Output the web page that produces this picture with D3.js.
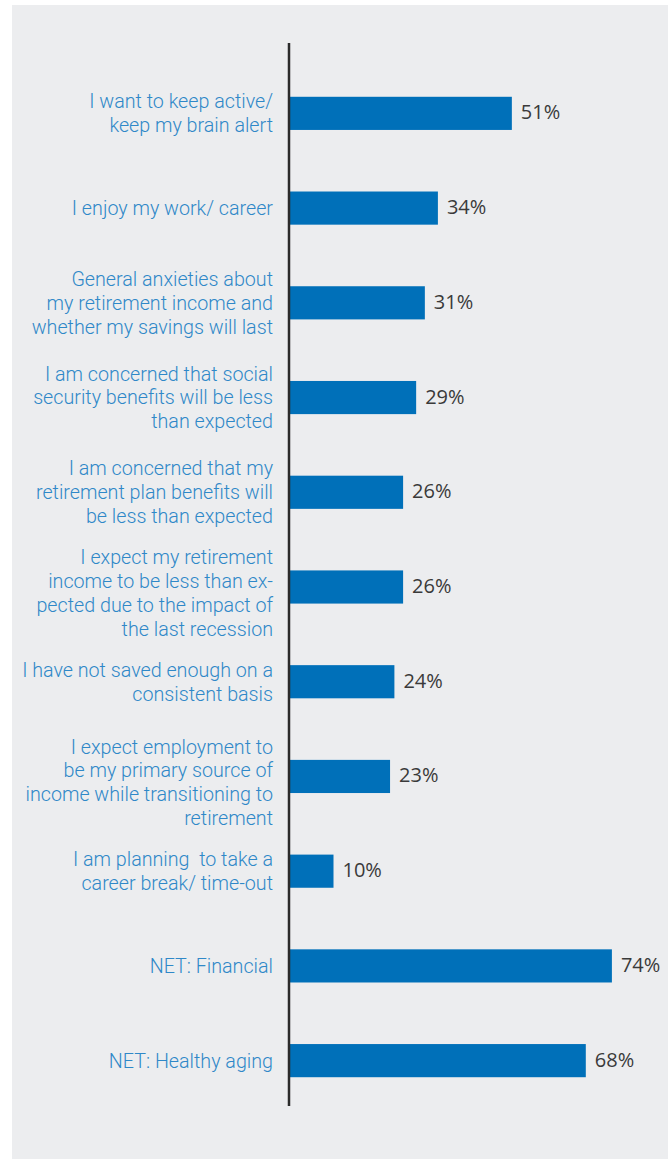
<!DOCTYPE html>
<html>
<head>
<meta charset="utf-8">
<script src="https://cdn.jsdelivr.net/npm/d3@7"></script>
<style>
  html, body { margin: 0; padding: 0; background: #ffffff; }
  svg { display: block; }
</style>
</head>
<body>
<svg id="chart" width="668" height="1159"></svg>
<script>
// ---- data ----
const categories = [
  "I want to keep active/\nkeep my brain alert",
  "I enjoy my work/ career",
  "General anxieties about\nmy retirement income and\nwhether my savings will last",
  "I am concerned that social\nsecurity benefits will be less\nthan expected",
  "I am concerned that my\nretirement plan benefits will\nbe less than expected",
  "I expect my retirement\nincome to be less than ex-\npected due to the impact of\nthe last recession",
  "I have not saved enough on a\nconsistent basis",
  "I expect employment to\nbe my primary source of\nincome while transitioning to\nretirement",
  "I am planning  to take a\ncareer break/ time-out",
  "NET: Financial",
  "NET: Healthy aging"
];
const values = [51, 34, 31, 29, 26, 26, 24, 23, 10, 74, 68];
const valueLabels = ["51%", "34%", "31%", "29%", "26%", "26%", "24%", "23%", "10%", "74%", "68%"];

// ---- layout ----
const W = 668, H = 1159;
const svg = d3.select("#chart");

svg.append("rect")
  .attr("x", 12).attr("y", 5)
  .attr("width", W - 12).attr("height", H - 5)
  .attr("fill", "#ecedef");

const x0 = 290;
const x = d3.scaleLinear().domain([0, 100]).range([x0, x0 + 435]);
const y = d3.scaleBand()
  .domain(d3.range(categories.length))
  .range([66, 1108])
  .paddingInner(0.65)
  .paddingOuter(0.325);

// bars
svg.append("g").selectAll("rect")
  .data(values)
  .join("rect")
  .attr("x", x(0))
  .attr("y", (d, i) => y(i))
  .attr("width", d => x(d) - x(0))
  .attr("height", y.bandwidth())
  .attr("fill", "#0070b9");

// axis line
svg.append("line")
  .attr("x1", 289).attr("x2", 289)
  .attr("y1", 43).attr("y2", 1106)
  .attr("stroke", "#2b2b2b")
  .attr("stroke-width", 2.5);

// value labels
svg.append("g").selectAll("text")
  .data(values)
  .join("text")
  .attr("x", d => x(d) + 9)
  .attr("y", (d, i) => y(i) + y.bandwidth() / 2 - 1)
  .attr("dy", "0.35em")
  .attr("font-family", "'Open Sans', sans-serif")
  .attr("font-size", 20)
  .attr("fill", "#3a3a3a")
  .text((d, i) => valueLabels[i]);

// category labels
const lh = 23.8;
const cat = svg.append("g").selectAll("text")
  .data(categories)
  .join("text")
  .attr("x", 273)
  .attr("text-anchor", "end")
  .attr("font-family", "Roboto, sans-serif")
  .attr("font-weight", 300)
  .attr("font-size", 19.7)
  .attr("fill", "#2f88c8");

cat.each(function(d, i) {
  const lines = d.split("\n");
  const shift = lines.length >= 4 ? 6 : 0;
  const cy = y(i) + y.bandwidth() / 2 + shift;
  const t = d3.select(this);
  lines.forEach((ln, k) => {
    t.append("tspan")
      .attr("x", 273)
      .attr("y", cy + (k - (lines.length - 1) / 2) * lh)
      .attr("dy", "0.35em")
      .style("white-space", "pre")
      .text(ln);
  });
});
</script>
</body>
</html>
